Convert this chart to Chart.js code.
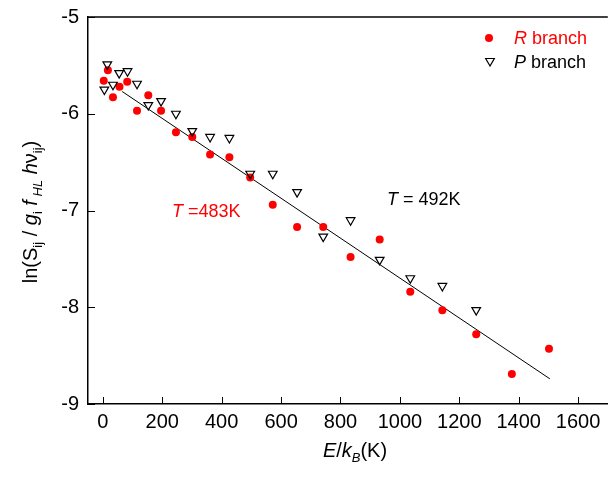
<!DOCTYPE html>
<html>
<head>
<meta charset="utf-8">
<script src="https://cdn.jsdelivr.net/npm/chart.js@4.4.0/dist/chart.umd.min.js"></script>
<style>
  html, body { margin: 0; background: #fff; overflow: hidden; }
  /* a bit wider than the window so the plot runs off the right edge like the original */
  #wrap { width: 614px; height: 477px; }
</style>
</head>
<body>
<div id="wrap"><canvas id="chart"></canvas></div>
<script>
// R branch: E/kB (K) and ln(...)
const rEnergy = [3, 17, 34, 56, 82, 115, 153, 196, 246, 301, 361, 426, 496, 572, 654, 742, 834, 932, 1035, 1143, 1257, 1377, 1502];
const rLn = [-5.66, -5.55, -5.83, -5.72, -5.67, -5.97, -5.81, -5.97, -6.19, -6.24, -6.42, -6.45, -6.66, -6.94, -7.17, -7.17, -7.48, -7.30, -7.84, -8.03, -8.28, -8.69, -8.43];

// P branch
const pEnergy = [5, 15, 34, 55, 83, 115, 153, 196, 246, 301, 361, 426, 496, 572, 654, 742, 834, 932, 1035, 1143, 1257];
const pLn = [-5.75, -5.49, -5.70, -5.58, -5.56, -5.69, -5.91, -5.87, -6.00, -6.18, -6.24, -6.25, -6.62, -6.62, -6.81, -7.27, -7.10, -7.51, -7.70, -7.78, -8.03];

// linear fit
const fitEnergy = [65, 1505];
const fitLn = [-5.77, -8.74];

const xTicks = [0, 200, 400, 600, 800, 1000, 1200, 1400, 1600];
const yTicks = [-9, -8, -7, -6, -5];

const FONT = '"Liberation Sans", Arial, sans-serif';
const RED = '#ff0000';

const toPoints = (xs, ys) => xs.map((v, i) => ({ x: v, y: ys[i] }));

// draws a run of text pieces [text, style, size, dy, color]
function drawRuns(ctx, runs, x, y, center) {
  let w = 0;
  runs.forEach(r => {
    ctx.font = r[1] + ' ' + r[2] + 'px ' + FONT;
    r.w = ctx.measureText(r[0]).width;
    w += r.w;
  });
  let cx = center ? x - w / 2 : x;
  runs.forEach(r => {
    ctx.font = r[1] + ' ' + r[2] + 'px ' + FONT;
    ctx.fillStyle = r[4] || '#000';
    ctx.fillText(r[0], cx, y + (r[3] || 0));
    cx += r.w;
  });
}

const decorations = {
  id: 'decorations',
  afterDraw(chart) {
    const { ctx, chartArea: a, scales: { x, y } } = chart;
    ctx.save();
    ctx.strokeStyle = '#000';

    // top frame
    ctx.lineWidth = 1.5;
    ctx.beginPath();
    ctx.moveTo(a.left, a.top);
    ctx.lineTo(a.right, a.top);
    ctx.stroke();

    // inward tick marks
    ctx.lineWidth = 1;
    xTicks.forEach(v => {
      const px = Math.round(x.getPixelForValue(v)) + 0.5;
      ctx.beginPath();
      ctx.moveTo(px, a.bottom);
      ctx.lineTo(px, a.bottom - 7);
      ctx.stroke();
    });
    yTicks.forEach(v => {
      const py = Math.round(y.getPixelForValue(v)) + 0.5;
      ctx.beginPath();
      ctx.moveTo(a.left, py);
      ctx.lineTo(a.left + 7, py);
      ctx.stroke();
    });

    ctx.textBaseline = 'alphabetic';

    // x title
    drawRuns(ctx, [
      ['E', 'italic', 20], ['/', 'normal', 20], ['k', 'italic', 20],
      ['B', 'italic', 13, 5], ['(K)', 'normal', 20]
    ], 355, 457, true);

    // y title
    ctx.save();
    ctx.translate(37, 212);
    ctx.rotate(-Math.PI / 2);
    drawRuns(ctx, [
      ['ln(S', 'normal', 20], ['ij', 'normal', 13, 5], [' / ', 'normal', 20],
      ['g', 'italic', 20], ['i', 'normal', 13, 5], [' ', 'normal', 20],
      ['f', 'italic', 20], [' HL', 'italic', 13, 5], [' ', 'normal', 20],
      ['h', 'italic', 20], ['\u03bd', 'normal', 20], ['ij', 'normal', 13, 5],
      [')', 'normal', 20]
    ], 0, 0, true);
    ctx.restore();

    // annotations
    drawRuns(ctx, [['T', 'italic', 18, 0, RED], [' =483K', 'normal', 18, 0, RED]], 172, 217, false);
    drawRuns(ctx, [['T', 'italic', 18], [' = 492K', 'normal', 18]], 387, 205, false);

    // legend
    ctx.fillStyle = RED;
    ctx.beginPath();
    ctx.arc(489, 38, 4, 0, Math.PI * 2);
    ctx.fill();
    ctx.lineWidth = 1.2;
    ctx.strokeStyle = '#000';
    ctx.fillStyle = 'rgba(0,0,0,0)';
    Chart.helpers.drawPoint(ctx, { pointStyle: 'triangle', rotation: 180, radius: 5, borderWidth: 1.2 }, 490, 61);
    drawRuns(ctx, [['R', 'italic', 18, 0, RED], [' branch', 'normal', 18, 0, RED]], 514, 44, false);
    drawRuns(ctx, [['P', 'italic', 18], [' branch', 'normal', 18]], 514, 68, false);

    ctx.restore();
  }
};

new Chart(document.getElementById('chart'), {
  type: 'scatter',
  data: {
    datasets: [
      {
        label: 'P branch',
        data: toPoints(pEnergy, pLn),
        pointStyle: 'triangle',
        rotation: 180,
        pointRadius: 5,
        backgroundColor: 'rgba(0,0,0,0)',
        borderColor: '#000',
        borderWidth: 1.2,
      },
      {
        label: 'R branch',
        data: toPoints(rEnergy, rLn),
        pointStyle: 'circle',
        pointRadius: 4,
        backgroundColor: RED,
        borderWidth: 0,
      },
      {
        type: 'line',
        label: 'fit',
        data: toPoints(fitEnergy, fitLn),
        borderColor: '#000',
        borderWidth: 1,
        pointRadius: 0,
        fill: false,
      },
    ],
  },
  options: {
    responsive: true,
    maintainAspectRatio: false,
    animation: false,
    layout: { padding: { top: 17, right: 0, left: 0, bottom: 0 } },
    plugins: {
      legend: { display: false },
      tooltip: { enabled: false },
    },
    scales: {
      x: {
        type: 'linear',
        min: -50,
        max: 1700,
        grid: { display: false, drawTicks: false },
        border: { display: true, color: '#000', width: 1.5 },
        afterBuildTicks: s => { s.ticks = xTicks.map(v => ({ value: v })); },
        afterFit: s => { s.height = 73; s.paddingLeft = 0; s.paddingRight = 0; },
        ticks: {
          color: '#000',
          padding: 6,
          maxRotation: 0,
          autoSkip: false,
          font: { family: FONT, size: 20 },
          callback: v => String(v),
        },
      },
      y: {
        min: -9,
        max: -5,
        grid: { display: false, drawTicks: false },
        border: { display: true, color: '#000', width: 1.5 },
        afterBuildTicks: s => { s.ticks = yTicks.map(v => ({ value: v })); },
        afterFit: s => { s.width = 88; s.paddingTop = 0; s.paddingBottom = 0; },
        ticks: {
          color: '#000',
          padding: 9,
          font: { family: FONT, size: 20 },
          callback: v => String(v),
        },
      },
    },
  },
  plugins: [decorations],
});
</script>
</body>
</html>
